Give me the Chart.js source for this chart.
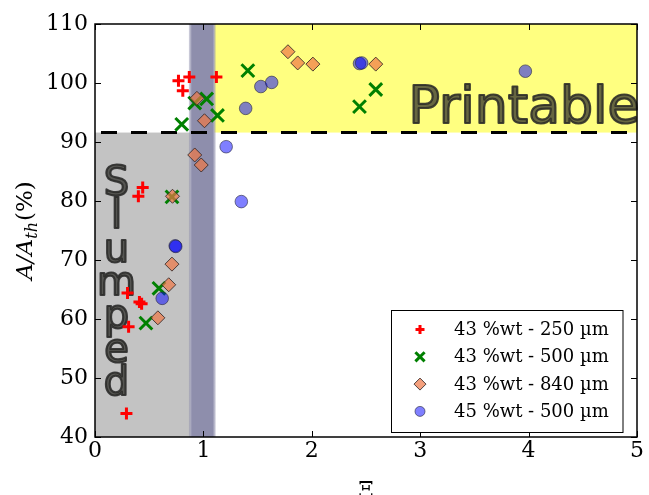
<!DOCTYPE html>
<html><head><meta charset="utf-8">
<script src="https://cdn.jsdelivr.net/npm/chart.js@4/dist/chart.umd.min.js"></script>
<style>html,body{margin:0;padding:0;background:#fff;overflow:hidden}#wrap{width:649px;height:495px;position:relative}</style>
</head><body><div id="wrap"><canvas id="c" width="649" height="495"></canvas></div>
<script>
// ---- data ----
const seriesLabels = ['43 %wt - 250 µm', '43 %wt - 500 µm', '43 %wt - 840 µm', '45 %wt - 500 µm'];
const xTicks = [0, 1, 2, 3, 4, 5];
const yTicks = [40, 50, 60, 70, 80, 90, 100, 110];

const xRed = [0.77, 0.87, 0.81, 1.12, 0.44, 0.40, 0.30, 0.41, 0.43, 0.31, 0.29];
const yRed = [100.4, 101.0, 98.7, 101.0, 82.3, 80.8, 64.4, 62.9, 62.6, 58.7, 44.0];

const xGreen = [1.41, 0.92, 1.03, 1.13, 0.80, 0.71, 2.44, 2.59, 0.59, 0.47];
const yGreen = [102.1, 96.6, 97.3, 94.5, 93.0, 80.7, 96.0, 98.9, 65.2, 59.3];

const xOrange = [0.94, 1.01, 0.92, 0.98, 0.715, 1.78, 1.87, 2.01, 2.59, 0.71, 0.68, 0.58];
const yOrange = [97.4, 93.6, 87.8, 86.1, 80.8, 105.3, 103.4, 103.2, 103.2, 69.3, 65.8, 60.2];

const xBlue = [2.44, 2.46, 1.53, 1.63, 1.39, 1.21, 1.35, 3.97, 0.74, 0.745, 0.62];
const yBlue = [103.3, 103.4, 99.4, 100.1, 95.7, 89.2, 79.9, 102.0, 72.4, 72.3, 63.5];

const printableLevel = 91.6;   // dashed threshold
const bandStart = 0.88, bandEnd = 1.10;
const regionLabels = ['Printable', 'Slumped'];
const xTitle = 'Ξ';

// ---- styles ----
const styles = [
  {pointStyle: 'cross', radius: 6, lr: 4.5, bg: '#ff0000', bc: '#ff0000', bw: 3},
  {pointStyle: 'crossRot', radius: 9, lr: 6.5, bg: '#008000', bc: '#008000', bw: 3},
  {pointStyle: 'rectRot', radius: 7, lr: 6, bg: 'rgba(240,120,70,0.7)', bc: 'rgba(50,40,40,0.85)', bw: 1},
  {pointStyle: 'circle', radius: 6.3, lr: 5, bg: 'rgba(0,0,255,0.5)', bc: 'rgba(40,40,60,0.6)', bw: 1}
];
const xs = [xRed, xGreen, xOrange, xBlue];
const ys = [yRed, yGreen, yOrange, yBlue];

const datasets = seriesLabels.map((lab, i) => ({
  label: lab,
  data: xs[i].map((x, j) => ({x: x, y: ys[i][j]})),
  pointStyle: styles[i].pointStyle,
  pointRadius: styles[i].radius,
  pointHoverRadius: styles[i].radius,
  backgroundColor: styles[i].bg,
  borderColor: styles[i].bc,
  pointBorderWidth: styles[i].bw,
  borderWidth: styles[i].bw,
  showLine: false,
  order: 4 - i
}));

function drawMarker(ctx, style, x, y, r) {
  ctx.save();
  ctx.fillStyle = style.bg; ctx.strokeStyle = style.bc; ctx.lineWidth = style.bw;
  ctx.beginPath();
  if (style.pointStyle === 'cross') {
    ctx.moveTo(x - r, y); ctx.lineTo(x + r, y); ctx.moveTo(x, y - r); ctx.lineTo(x, y + r); ctx.stroke();
  } else if (style.pointStyle === 'crossRot') {
    const d = r * Math.SQRT1_2;
    ctx.moveTo(x - d, y - d); ctx.lineTo(x + d, y + d); ctx.moveTo(x + d, y - d); ctx.lineTo(x - d, y + d); ctx.stroke();
  } else if (style.pointStyle === 'rectRot') {
    ctx.moveTo(x - r, y); ctx.lineTo(x, y - r); ctx.lineTo(x + r, y); ctx.lineTo(x, y + r); ctx.closePath(); ctx.fill(); ctx.stroke();
  } else {
    ctx.arc(x, y, r, 0, Math.PI * 2); ctx.fill(); ctx.stroke();
  }
  ctx.restore();
}

const deco = {
  id: 'deco',
  beforeDatasetsDraw(chart) {
    const {ctx, chartArea: a, scales: {x, y}} = chart;
    const yT = y.getPixelForValue(printableLevel);
    const xb0 = x.getPixelForValue(bandStart), xb1 = x.getPixelForValue(bandEnd);
    ctx.save();
    // slumped region
    ctx.fillStyle = '#c3c3c3';
    ctx.fillRect(a.left, yT, xb0 - a.left, a.bottom - yT);
    // printable region
    ctx.fillStyle = '#ffff80';
    ctx.fillRect(xb1, a.top, a.right - xb1, yT - a.top);
    // transition band
    const g = ctx.createLinearGradient(xb0 - 1.5, 0, xb1 + 1.5, 0);
    const w = xb1 - xb0 + 3;
    g.addColorStop(0, 'rgba(142,142,172,0.35)');
    g.addColorStop(3 / w, 'rgba(142,142,172,1)');
    g.addColorStop(1 - 3 / w, 'rgba(142,142,172,1)');
    g.addColorStop(1, 'rgba(142,142,172,0.35)');
    ctx.fillStyle = g;
    ctx.fillRect(xb0 - 1.5, a.top, w, a.bottom - a.top);
    // dashed threshold line
    ctx.strokeStyle = '#000'; ctx.lineWidth = 3; ctx.setLineDash([16, 14]); ctx.lineDashOffset = -6;
    ctx.beginPath(); ctx.moveTo(a.left, yT); ctx.lineTo(a.right, yT); ctx.stroke();
    ctx.setLineDash([]);
    // region texts
    ctx.lineJoin = 'round';
    ctx.fillStyle = 'rgba(45,45,40,0.72)'; ctx.strokeStyle = 'rgba(35,35,35,0.85)'; ctx.lineWidth = 2.2;
    ctx.font = '52px "DejaVu Sans"'; ctx.textAlign = 'center'; ctx.textBaseline = 'alphabetic';
    ctx.strokeText(regionLabels[0], 524, 123); ctx.fillText(regionLabels[0], 524, 123);
    ctx.font = '40px "DejaVu Sans"';
    const s = regionLabels[1];
    for (let i = 0; i < s.length; i++) {
      const by = 195 + i * 33.3;
      ctx.strokeText(s[i], 116.5, by); ctx.fillText(s[i], 116.5, by);
    }
    ctx.restore();
  },
  afterDraw(chart) {
    const {ctx, chartArea: a, scales: {x, y}} = chart;
    ctx.save();
    // ticks inside on all sides
    ctx.strokeStyle = '#000'; ctx.lineWidth = 1;
    ctx.beginPath();
    xTicks.forEach(v => { const px = Math.round(x.getPixelForValue(v)) + 0.5;
      ctx.moveTo(px, a.bottom); ctx.lineTo(px, a.bottom - 6); ctx.moveTo(px, a.top); ctx.lineTo(px, a.top + 6); });
    yTicks.forEach(v => { const py = Math.round(y.getPixelForValue(v)) + 0.5;
      ctx.moveTo(a.left, py); ctx.lineTo(a.left + 6, py); ctx.moveTo(a.right, py); ctx.lineTo(a.right - 6, py); });
    ctx.stroke();
    // frame
    ctx.lineWidth = 1.5;
    ctx.strokeRect(a.left, a.top, a.right - a.left, a.bottom - a.top);
    // legend
    const L = 391.5, T = 310.5, R = 623, B = 432.5;
    ctx.fillStyle = '#fff'; ctx.fillRect(L, T, R - L, B - T);
    ctx.lineWidth = 1; ctx.strokeStyle = '#000'; ctx.strokeRect(L, T, R - L, B - T);
    ctx.font = '18px "DejaVu Serif"'; ctx.textAlign = 'left'; ctx.textBaseline = 'middle'; ctx.fillStyle = '#000';
    seriesLabels.forEach((lab, i) => {
      const cy = 329.5 + i * 27.3;
      drawMarker(ctx, styles[i], 420, cy, styles[i].lr);
      ctx.fillStyle = '#000';
      ctx.fillText(lab, 454, cy + 1);
    });
    // y title  A/A_th(%)
    ctx.save();
    ctx.translate(32, (a.top + a.bottom) / 2);
    ctx.rotate(-Math.PI / 2);
    ctx.textBaseline = 'alphabetic'; ctx.textAlign = 'left';
    const f1 = 'italic 23px "DejaVu Serif"', f2 = 'italic 16px "DejaVu Serif"', f3 = '23px "DejaVu Serif"';
    ctx.font = f1; const w1 = ctx.measureText('A/A').width;
    ctx.font = f2; const w2 = ctx.measureText('th').width;
    ctx.font = f3; const w3 = ctx.measureText('(%)').width;
    let sx = -(w1 + w2 + w3 + 1) / 2;
    ctx.font = f1; ctx.fillText('A/A', sx, 0); sx += w1;
    ctx.font = f2; ctx.fillText('th', sx, 5); sx += w2 + 1;
    ctx.font = f3; ctx.fillText('(%)', sx, 0);
    ctx.restore();
    // x title
    ctx.font = '22px "DejaVu Serif"'; ctx.textAlign = 'center'; ctx.textBaseline = 'alphabetic';
    ctx.fillText(xTitle, (a.left + a.right) / 2, 497);
    ctx.restore();
  }
};

new Chart(document.getElementById('c'), {
  type: 'scatter',
  data: {datasets},
  options: {
    responsive: false, animation: false, devicePixelRatio: 1,
    layout: {padding: {left: 0, right: 7, top: 24, bottom: 0}},
    plugins: {legend: {display: false}, tooltip: {enabled: false}},
    scales: {
      x: {
        type: 'linear', min: 0, max: 5,
        afterBuildTicks: s => { s.ticks = xTicks.map(v => ({value: v})); },
        afterFit: s => { s.height = 58; },
        grid: {display: false, drawTicks: false}, border: {display: false},
        ticks: {font: {family: 'DejaVu Serif', size: 22}, color: '#000', padding: 1, callback: v => String(v)}
      },
      y: {
        type: 'linear', min: 40, max: 110,
        afterBuildTicks: s => { s.ticks = yTicks.map(v => ({value: v})); },
        afterFit: s => { s.width = 95; },
        grid: {display: false, drawTicks: false}, border: {display: false},
        ticks: {font: {family: 'DejaVu Serif', size: 22}, color: '#000', padding: 7, callback: v => String(v)}
      }
    }
  },
  plugins: [deco]
});
</script>
</body></html>
